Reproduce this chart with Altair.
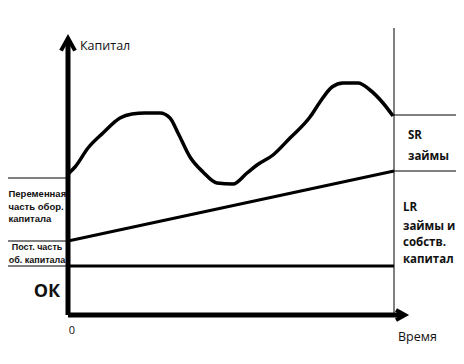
import altair as alt
import pandas as pd

# ---- data (diagram units: time on x, capital on y) ----
curve_t = [0, 0.7, 2.0, 3.5, 5.2, 6.4, 7.7, 9.2, 10.2, 11.0, 12.2, 13.5, 14.9,
           16.5, 17.9, 18.9, 20.5, 22.2, 24.2, 25.2, 26.4, 27.5, 29.0, 30.2, 31.5, 32.5]
curve_v = [14.1, 14.8, 16.7, 18.2, 19.7, 20.1, 20.2, 20.2, 19.7, 18.2, 15.8, 14.3, 13.2,
           13.1, 14.2, 15.0, 16.0, 17.7, 19.8, 21.3, 22.8, 23.2, 23.2, 22.5, 21.2, 19.9]

t_end = 32.6          # right border of the time span
ok_level = 4.9        # permanent working capital level (OK)
lr_start = 7.4        # long-term financing line, start
lr_end = 14.4         # long-term financing line, end
sr_top = 20.0         # short-term financing upper mark
left_levels = [13.7, 7.4, 4.9]

X_DOM = [-6, 38.8]
Y_DOM = [-4.1, 30.7]

xs = alt.Scale(domain=X_DOM, nice=False, zero=False)
ys = alt.Scale(domain=Y_DOM, nice=False, zero=False)

def enc(**kw):
    out = {}
    for k, v in kw.items():
        if k in ("x", "x2"):
            out[k] = alt.X(v, type="quantitative", scale=xs, axis=None) if k == "x" else alt.X2(v)
        elif k in ("y", "y2"):
            out[k] = alt.Y(v, type="quantitative", scale=ys, axis=None) if k == "y" else alt.Y2(v)
        else:
            out[k] = v
    return out

# thin lines
thin = pd.DataFrame({
    "x":  [-7, -7, -7, t_end, t_end, t_end],
    "x2": [0, 0, 0, 40, 40, t_end],
    "y":  left_levels + [sr_top, lr_end, 0],
    "y2": left_levels + [sr_top, lr_end, 28.7],
})
thin_layer = alt.Chart(thin).mark_rule(color="black", strokeWidth=1).encode(
    **enc(x="x", x2="x2", y="y", y2="y2"))

# medium lines: OK level and LR slope
med = pd.DataFrame({
    "x": [0, 0], "x2": [t_end, t_end],
    "y": [ok_level, lr_start], "y2": [ok_level, lr_end],
})
med_layer = alt.Chart(med).mark_rule(color="black", strokeWidth=3).encode(
    **enc(x="x", x2="x2", y="y", y2="y2"))

# axes
axes = pd.DataFrame({"x": [0, 0], "x2": [0, 33.4], "y": [0, 0], "y2": [27.5, 0]})
axes_layer = alt.Chart(axes).mark_rule(color="black", strokeWidth=5).encode(
    **enc(x="x", x2="x2", y="y", y2="y2"))

up_arrow = alt.Chart(pd.DataFrame({"x": [0], "y": [27.0]})).mark_point(
    shape="M -1 0.8 L 0 -1 L 1 0.8", size=196, filled=False, stroke="black",
    strokeWidth=4, strokeJoin="miter", opacity=1).encode(**enc(x="x", y="y"))
right_arrow = alt.Chart(pd.DataFrame({"x": [33.2], "y": [0]})).mark_point(
    shape="M -0.8 -1 L 1 0 L -0.8 1", size=100, filled=False, stroke="black",
    strokeWidth=4, strokeJoin="miter", opacity=1).encode(**enc(x="x", y="y"))

curve = pd.DataFrame({"t": curve_t, "v": curve_v})
curve_layer = alt.Chart(curve).mark_line(color="black", strokeWidth=3.5,
                                         interpolate="monotone").encode(**enc(x="t", y="v"))

FONT = "Open Sans"
SMALL_FONT = "Liberation Sans"

def text_layer(labels, xs_, ys_, size, weight, align="left", font=FONT):
    df = pd.DataFrame({"label": labels, "x": xs_, "y": ys_})
    return alt.Chart(df).mark_text(font=font, fontSize=size, fontWeight=weight,
                                   align=align, baseline="middle", color="#111").encode(
        text="label:N", **enc(x="x", y="y"))

t_axis = text_layer(["Капитал", "Время"], [1.2, 33.0], [26.9, -2.2], 12.5, "normal")
t_zero = text_layer(["0"], [0.4], [-1.6], 11, "normal", align="center")
t_ok = text_layer(["ОК"], [-2.1], [2.3], 18, "bold", align="center")
t_sr = text_layer(["SR", "займы"], [34.0, 34.0], [17.9, 15.8], 11.5, "bold")
t_lr = text_layer(["LR", "займы и", "собств.", "капитал"], [33.5] * 4,
                  [10.7, 8.8, 7.2, 5.5], 11.5, "bold")
t_var = text_layer(["Переменная", "часть обор.", "капитала"], [-5.95] * 3,
                   [12.1, 10.8, 9.6], 9.5, "bold", font=SMALL_FONT)
t_const = text_layer(["Пост. часть", "об. капитала"], [-3.1] * 2, [6.8, 5.5], 9,
                     "bold", align="center", font=SMALL_FONT)

chart = alt.layer(
    thin_layer, med_layer, curve_layer, axes_layer, up_arrow, right_arrow,
    t_axis, t_zero, t_ok, t_sr, t_lr, t_var, t_const
).properties(
    width=448, height=348, padding=0,
    autosize=alt.AutoSizeParams(type="none"),
    background="white",
).configure_view(stroke=None)

chart.save("out.html", embed_options={"renderer": "svg", "actions": False})
